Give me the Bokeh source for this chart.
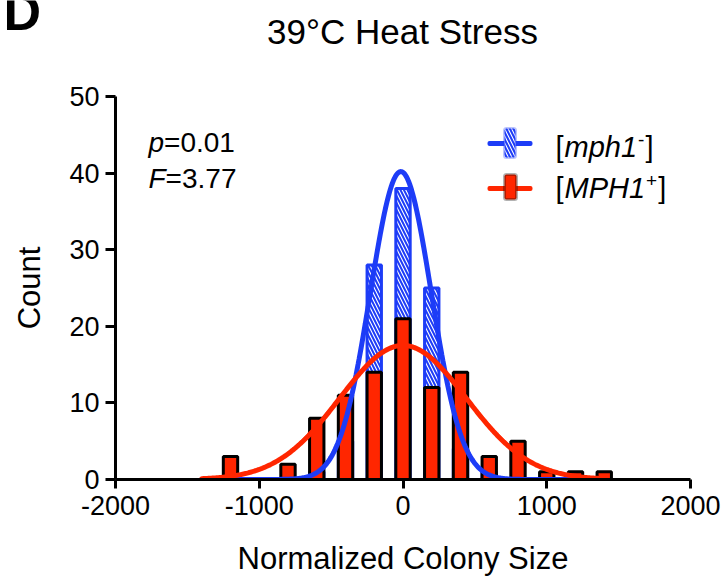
import numpy as np
from bokeh.plotting import figure
from bokeh.layouts import column
from bokeh.models import Label, BoxAnnotation, FixedTicker
from bokeh.embed import file_html
from bokeh.resources import INLINE

# ---------------- data ----------------
bin_centers = [-1400, -1200, -1000, -800, -600, -400, -200, 0, 200, 400, 600, 800, 1000, 1200, 1400]
red_counts = [0, 3, 0, 2, 8, 11, 14, 21, 12, 14, 3, 5, 1, 1, 1]      # [MPH1+]
blue_counts = [0, 0, 0, 0, 1, 5, 28, 38, 25, 4, 1, 0, 0, 0, 0]      # [mph1-]

# Gaussian fits (mean, SD, amplitude)
blue_fit = dict(mean=-15, sd=212, amp=40.2)
red_fit = dict(mean=0, sd=440, amp=17.5)
fit_range = (-1400, 1400)

x_ticks = [-2000, -1000, 0, 1000, 2000]
x_tick_labels = ["-2000", "-1000", "0", "1000", "2000"]
y_ticks = [0, 10, 20, 30, 40, 50]

title_text = "39°C Heat Stress"
x_label = "Normalized Colony Size"
y_label = "Count"
panel_letter = "D"
stat_names = ["p", "F"]
stat_values = ["=0.01", "=3.77"]
legend_names = ["mph1", "MPH1"]
legend_sups = ["-", "+"]

BLUE = "#1d3cf7"
RED = "#ff2600"
FONT = "Liberation Sans"

W, H = 728, 580
HEAD = 80                # height of the header strip (panel letter + title)
FL, FT, FB = 115, 96, 479  # frame left / top / bottom in page pixels
BASE_SHIFT = 0.37        # empirical baseline correction (fraction of font size)

# ---------------- header (panel letter + title) ----------------
head = figure(width=W, height=HEAD, x_range=(0, 1), y_range=(0, 1),
              output_backend="svg", toolbar_location=None,
              x_axis_location=None, y_axis_location=None, frame_align=False,
              min_border_left=0, min_border_right=0, min_border_top=0, min_border_bottom=0)
head.outline_line_color = None
head.grid.visible = False
head.background_fill_color = "white"
head.border_fill_color = "white"

def hlabel(x, y, text, size, style="normal", align="left"):
    yy = y - BASE_SHIFT * size
    head.add_layout(Label(x=x, y=HEAD - yy, x_units="screen", y_units="screen", text=text,
                          text_font=FONT, text_font_size=f"{size}px", text_font_style=style,
                          text_color="black", text_baseline="alphabetic", text_align=align))

hlabel(3, 31, panel_letter, 52, "bold")
hlabel(402, 44, title_text, 35, "normal", "center")

# ---------------- main figure ----------------
p = figure(width=W, height=H - HEAD, x_range=(-2000, 2000), y_range=(0, 50),
           output_backend="svg", toolbar_location=None, frame_align=False,
           min_border_left=FL, min_border_right=38, min_border_top=FT - HEAD,
           min_border_bottom=H - FB)
p.background_fill_color = "white"
p.border_fill_color = "white"
p.outline_line_color = None
p.grid.visible = False

for ax in (p.xaxis[0], p.yaxis[0]):
    ax.axis_line_width = 3
    ax.axis_line_color = "black"
    ax.major_tick_line_width = 3
    ax.major_tick_line_color = "black"
    ax.major_tick_in = 0
    ax.minor_tick_line_color = None
    ax.major_label_text_font = FONT
    ax.major_label_text_font_size = "27px"
    ax.major_label_text_color = "black"
    ax.axis_label_text_font = FONT
    ax.axis_label_text_font_size = "31px"
    ax.axis_label_text_font_style = "normal"
    ax.axis_label_text_color = "black"

p.xaxis.ticker = FixedTicker(ticks=x_ticks)
p.xaxis.major_label_overrides = {t: l for t, l in zip(x_ticks, x_tick_labels)}
p.xaxis.major_tick_out = 9
p.xaxis.major_label_standoff = 7
p.xaxis.axis_label = x_label
p.xaxis.axis_label_standoff = 23

p.yaxis.ticker = FixedTicker(ticks=y_ticks)
p.yaxis.major_tick_out = 10
p.yaxis.major_label_standoff = 6
p.yaxis.axis_label = y_label
p.yaxis.axis_label_standoff = 19

# ---------------- bars ----------------
bx = [c for c, v in zip(bin_centers, blue_counts) if v > 0]
bv = [v for v in blue_counts if v > 0]
rx = [c for c, v in zip(bin_centers, red_counts) if v > 0]
rv = [v for v in red_counts if v > 0]

p.vbar(x=bx, top=bv, bottom=0, width=100, fill_color="white", line_color=BLUE, line_width=3,
       hatch_pattern="left_diagonal_line", hatch_color=BLUE, hatch_scale=7, hatch_weight=2)
p.vbar(x=rx, top=rv, bottom=0, width=100, fill_color=RED, line_color="black", line_width=3)

# ---------------- fitted curves ----------------
xs = np.linspace(fit_range[0], fit_range[1], 400)
def gauss(f):
    return f["amp"] * np.exp(-((xs - f["mean"]) ** 2) / (2 * f["sd"] ** 2))
p.line(xs, gauss(blue_fit), line_color=BLUE, line_width=5, line_cap="round")
p.line(xs, gauss(red_fit), line_color=RED, line_width=5, line_cap="round")

# ---------------- helpers (page px -> frame screen units) ----------------
def sx(x):
    return x - FL
def sy(y):
    return FB - y

AW = {"[": 278, "]": 278, "m": 833, "p": 556, "h": 556, "1": 556, "M": 833, "P": 667,
      "H": 722, "-": 333, "+": 584, "F": 611}
def tw(s, size):
    return sum(AW.get(c, 556) for c in s) / 1000 * size

def label(x, y, text, size, style="normal"):
    yy = y - BASE_SHIFT * size
    p.add_layout(Label(x=sx(x), y=sy(yy), x_units="screen", y_units="screen", text=text,
                       text_font=FONT, text_font_size=f"{size}px", text_font_style=style,
                       text_color="black", text_baseline="alphabetic", text_align="left"))

# statistics
for i, (n, v) in enumerate(zip(stat_names, stat_values)):
    y0 = 152 + 36 * i
    label(148, y0, n, 28, "italic")
    label(148 + tw(n, 28), y0, v, 28)

# legend
def box(l, r, t, b, **kw):
    p.add_layout(BoxAnnotation(left=sx(l), right=sx(r), top=sy(t), bottom=sy(b),
                               left_units="screen", right_units="screen",
                               top_units="screen", bottom_units="screen", **kw))

leg_colors = [BLUE, RED]
for i, (name, sup) in enumerate(zip(legend_names, legend_sups)):
    cy_line = 143 + 45 * i
    col = leg_colors[i]
    box(487, 532, cy_line - 2.5, cy_line + 2.5, fill_color=col, fill_alpha=1, line_color=None, border_radius=2)
    if i == 0:
        box(504, 515, cy_line - 15, cy_line + 14, fill_color="white", fill_alpha=1, line_color=col,
            line_width=3, border_radius=2, hatch_pattern="left_diagonal_line", hatch_color=col,
            hatch_scale=7, hatch_weight=2)
    else:
        box(504, 516, cy_line - 14, cy_line + 11, fill_color=col, fill_alpha=1, line_color="black",
            line_width=3, border_radius=2)
    base = 157 + 41 * i
    x0 = 555
    label(x0, base, "[", 29)
    x0 += tw("[", 29) + 1
    label(x0, base, name, 29, "italic")
    x0 += tw(name, 29) + 1
    label(x0, base - 11, sup, 19)
    x0 += tw(sup, 19) + 1
    label(x0, base, "]", 29)

layout = column(head, p, spacing=0)
open("out.html", "w").write(file_html(layout, INLINE))
